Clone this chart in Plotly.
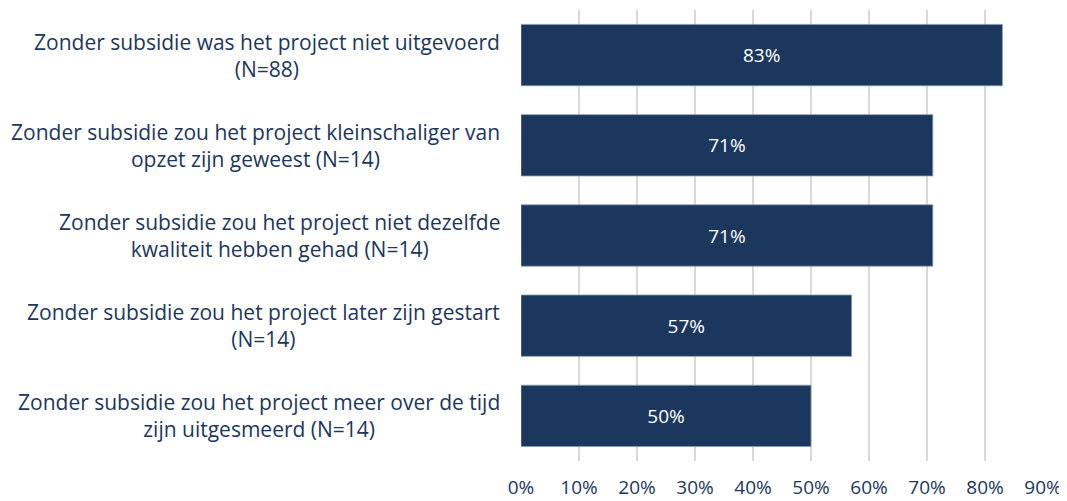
import plotly.graph_objects as go

categories = [
    "Zonder subsidie was het project niet uitgevoerd<br>(N=88)",
    "Zonder subsidie zou het project kleinschaliger van<br>opzet zijn geweest (N=14)",
    "Zonder subsidie zou het project niet dezelfde<br>kwaliteit hebben gehad (N=14)",
    "Zonder subsidie zou het project later zijn gestart<br>(N=14)",
    "Zonder subsidie zou het project meer over de tijd<br>zijn uitgesmeerd (N=14)",
]
values = [0.83, 0.71, 0.71, 0.57, 0.50]
tick_vals = [0, 0.1, 0.2, 0.3, 0.4, 0.5, 0.6, 0.7, 0.8, 0.9]
tick_text = ["0%", "10%", "20%", "30%", "40%", "50%", "60%", "70%", "80%", "90%"]

NAVY = "#1B375E"
FONT = "Open Sans"

fig = go.Figure()
fig.add_trace(go.Bar(
    x=values,
    y=categories,
    orientation="h",
    marker=dict(color=NAVY, line=dict(color="#8A9AB0", width=0.8)),
    text=[f"{round(v*100)}%" for v in values],
    textposition="inside",
    insidetextanchor="middle",
    textfont=dict(color="white", size=19, family=FONT),
    width=0.68,
    hoverinfo="skip",
))

for c in categories:
    fig.add_annotation(
        x=0, xref="paper", y=c, yref="y",
        text=c, showarrow=False, xanchor="right", yanchor="middle",
        align="center", xshift=-19,
        font=dict(color=NAVY, size=21, family=FONT),
    )

# page body has an 8px margin, so the figure is sized to fill the 1067x501 window
fig.update_layout(
    width=1059, height=493,
    margin=dict(l=513, r=24, t=2, b=40, autoexpand=False),
    plot_bgcolor="white", paper_bgcolor="white",
    showlegend=False,
    xaxis=dict(
        range=[0, 0.9], tickvals=tick_vals, ticktext=tick_text,
        showgrid=True, gridcolor="#D9D9D9", gridwidth=1.5,
        zeroline=False, showline=False, automargin=False,
        tickfont=dict(color=NAVY, size=19, family=FONT),
        ticks="outside", ticklen=9, tickcolor="rgba(0,0,0,0)",
    ),
    yaxis=dict(
        categoryorder="array", categoryarray=categories[::-1],
        showticklabels=False, showgrid=False, zeroline=False, automargin=False,
    ),
)

fig.write_html("out.html")
